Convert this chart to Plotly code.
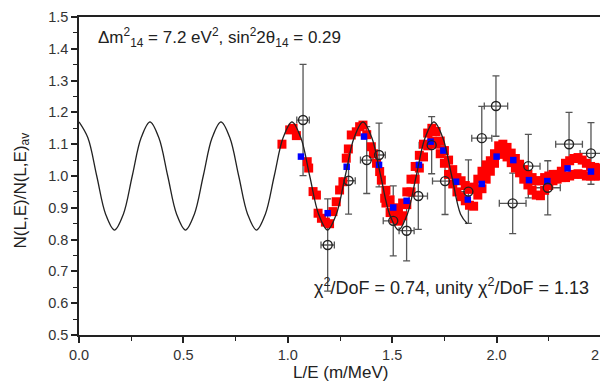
import plotly.graph_objects as go

# Model curve
curve_x = [0.000, 0.0425, 0.085, 0.1275, 0.170, 0.2125, 0.255, 0.2975, 0.340, 0.3825,
           0.425, 0.4675, 0.510, 0.5525, 0.595, 0.6375, 0.680, 0.7225, 0.765, 0.8075,
           0.850, 0.8925, 0.935, 0.9775, 1.020, 1.0625, 1.105, 1.1475, 1.190, 1.2325,
           1.275, 1.3175, 1.360, 1.4025, 1.445, 1.4875, 1.530, 1.5725, 1.615, 1.6575,
           1.700, 1.7425, 1.785, 1.8275, 1.860]
curve_y = [1.17, 1.12, 1.00, 0.88, 0.83, 0.88, 1.00, 1.12,
           1.17, 1.12, 1.00, 0.88, 0.83, 0.88, 1.00, 1.12,
           1.17, 1.12, 1.00, 0.88, 0.83, 0.88, 1.00, 1.12,
           1.17, 1.12, 1.00, 0.88, 0.83, 0.88, 1.00, 1.12,
           1.17, 1.12, 1.00, 0.88, 0.83, 0.88, 1.00, 1.12,
           1.17, 1.12, 1.00, 0.88, 0.85]

# Red squares: sparse part (L/E < 1.47)
red_x_a = [0.972, 1.009, 1.025, 1.041, 1.093, 1.100, 1.121, 1.137, 1.145, 1.161,
           1.180, 1.200, 1.216, 1.232, 1.248, 1.264, 1.280, 1.290, 1.304, 1.328,
           1.344, 1.360, 1.378, 1.400, 1.410, 1.425, 1.440, 1.448, 1.464]
red_y_a = [1.100, 1.145, 1.150, 1.127, 1.045, 1.025, 0.951, 0.940, 0.883, 0.867,
           0.855, 0.850, 0.888, 0.919, 0.956, 0.982, 1.056, 1.085, 1.129, 1.139,
           1.155, 1.160, 1.130, 1.092, 1.070, 1.040, 1.014, 0.987, 0.930]

# Red squares: dense band (upper and lower rows)
red_x_b = [1.47, 1.49, 1.51, 1.53, 1.55, 1.57, 1.59, 1.61, 1.63, 1.65,
           1.67, 1.69, 1.71, 1.73, 1.75, 1.77, 1.79, 1.81, 1.83, 1.85,
           1.87, 1.89, 1.91, 1.93, 1.95, 1.97, 1.99, 2.01, 2.03, 2.05,
           2.07, 2.09, 2.11, 2.13, 2.15, 2.17, 2.19, 2.21, 2.23, 2.25,
           2.27, 2.29, 2.31, 2.33, 2.35, 2.37, 2.39, 2.41, 2.43, 2.45,
           2.47, 2.49]
red_y_up = [0.955, 0.925, 0.900, 0.890, 0.915, 0.950, 0.990, 1.030, 1.065, 1.100,
            1.135, 1.150, 1.140, 1.110, 1.080, 1.050, 1.020, 0.995, 0.985, 0.970,
            0.958, 0.965, 0.990, 1.015, 1.035, 1.048, 1.070, 1.095, 1.100, 1.090,
            1.072, 1.055, 1.037, 1.020, 1.005, 0.995, 0.985, 0.985, 0.995, 1.000,
            1.005, 1.005, 1.015, 1.040, 1.048, 1.055, 1.058, 1.050, 1.040, 1.030,
            1.027, 1.025]
red_y_lo = [0.915, 0.885, 0.865, 0.858, 0.875, 0.910, 0.950, 0.990, 1.025, 1.060,
            1.095, 1.110, 1.100, 1.070, 1.040, 1.005, 0.975, 0.950, 0.935, 0.922,
            0.908, 0.905, 0.940, 0.960, 0.990, 1.015, 1.040, 1.068, 1.075, 1.060,
            1.042, 1.025, 1.010, 0.990, 0.972, 0.955, 0.940, 0.938, 0.955, 0.970,
            0.985, 0.990, 0.995, 0.995, 1.000, 1.005, 1.007, 1.005, 1.000, 1.000,
            1.000, 1.000]

# Blue squares
blue_x = [1.063, 1.191, 1.282, 1.365, 1.437, 1.505, 1.569, 1.628, 1.684, 1.745,
          1.806, 1.862, 1.929, 2.000, 2.080, 2.155, 2.243, 2.340, 2.452]
blue_y = [1.061, 0.883, 1.029, 1.124, 1.035, 0.901, 0.922, 1.035, 1.108, 1.080,
          0.982, 0.926, 0.975, 1.061, 1.050, 0.987, 0.984, 1.024, 1.014]

# Open circles with error bars
circ_x = [1.073, 1.191, 1.291, 1.378, 1.437, 1.505, 1.569, 1.625, 1.689, 1.753,
          1.865, 1.929, 1.997, 2.077, 2.152, 2.245, 2.347, 2.452]
circ_y = [1.176, 0.783, 0.985, 1.050, 1.066, 0.859, 0.828, 0.937, 1.097, 0.984,
          0.951, 1.119, 1.220, 0.914, 1.031, 0.963, 1.100, 1.071]
circ_ey = [0.175, 0.145, 0.105, 0.105, 0.100, 0.110, 0.095, 0.105, 0.090, 0.105,
           0.100, 0.100, 0.095, 0.095, 0.100, 0.085, 0.100, 0.097]
circ_ex = [0.030, 0.032, 0.032, 0.030, 0.030, 0.048, 0.036, 0.044, 0.060, 0.060,
           0.056, 0.048, 0.056, 0.064, 0.056, 0.060, 0.064, 0.052]

x_ticks = [0.0, 0.5, 1.0, 1.5, 2.0, 2.5]
y_ticks = [0.5, 0.6, 0.7, 0.8, 0.9, 1.0, 1.1, 1.2, 1.3, 1.4, 1.5]

FONT = "Liberation Sans, Arial, sans-serif"
INK = "#222222"

fig = go.Figure()

# error bars (under the squares)
fig.add_trace(go.Scatter(
    x=circ_x, y=circ_y, mode="markers",
    marker=dict(symbol="circle", size=0.1, color="rgba(0,0,0,0)"),
    error_y=dict(type="data", array=circ_ey, color="#555555", thickness=1.3, width=3.5),
    error_x=dict(type="data", array=circ_ex, color="#555555", thickness=1.3, width=3.5),
    showlegend=False, hoverinfo="skip"))

red_style = dict(symbol="square", size=9, color="#ff0000", line=dict(width=0))
fig.add_trace(go.Scatter(x=red_x_a, y=red_y_a, mode="markers", marker=red_style, showlegend=False))
fig.add_trace(go.Scatter(x=red_x_b, y=red_y_up, mode="markers", marker=red_style, showlegend=False))
fig.add_trace(go.Scatter(x=red_x_b, y=red_y_lo, mode="markers", marker=red_style, showlegend=False))

fig.add_trace(go.Scatter(
    x=blue_x, y=blue_y, mode="markers",
    marker=dict(symbol="square", size=6.5, color="#0000ff", line=dict(width=0)),
    showlegend=False))

fig.add_trace(go.Scatter(
    x=curve_x, y=curve_y, mode="lines",
    line=dict(color=INK, width=1.3, shape="spline", smoothing=1.0),
    showlegend=False))

fig.add_trace(go.Scatter(
    x=circ_x, y=circ_y, mode="markers",
    marker=dict(symbol="circle-open", size=9, color=INK, line=dict(width=1.4)),
    showlegend=False))

fig.add_annotation(
    x=0.08, y=1.435, xref="x", yref="y", xanchor="left", yanchor="middle",
    text="Δm<sup>2</sup><sub>14</sub> = 7.2 eV<sup>2</sup>, sin<sup>2</sup>2θ<sub>14</sub> = 0.29",
    showarrow=False, font=dict(family=FONT, size=17, color=INK))

fig.add_annotation(
    x=2.452, y=0.652, xref="x", yref="y", xanchor="right", yanchor="middle",
    text="χ<sup>2</sup>/DoF = 0.74, unity χ<sup>2</sup>/DoF = 1.13",
    showarrow=False, font=dict(family=FONT, size=18, color=INK))

# axis titles
fig.add_annotation(
    x=0.5, y=-0.119, xref="paper", yref="paper", xanchor="center", yanchor="middle",
    text="L/E (m/MeV)", showarrow=False, font=dict(family=FONT, size=17, color=INK))
fig.add_annotation(
    x=-0.109, y=0.455, xref="paper", yref="paper", xanchor="center", yanchor="middle",
    text="N(L,E)/N(L,E)<sub>av</sub>", textangle=-90, showarrow=False,
    font=dict(family=FONT, size=17, color=INK))

axis_common = dict(
    showline=True, linecolor=INK, linewidth=1.5, mirror=True,
    ticks="outside", tickcolor=INK, tickwidth=1.5, ticklen=6,
    showgrid=False, zeroline=False, automargin=False,
    ticklabeloverflow="allow",
    tickfont=dict(family=FONT, size=14.5, color="#333333"),
)

fig.update_xaxes(
    range=[0, 2.5], tickvals=x_ticks, ticktext=[f"{v:.1f}" for v in x_ticks],
    minor=dict(ticks="outside", dtick=0.25, ticklen=4, tickwidth=1.3, tickcolor=INK),
    **axis_common)
fig.update_yaxes(
    range=[0.5, 1.5], tickvals=y_ticks, ticktext=[f"{v:.1f}" for v in y_ticks],
    minor=dict(ticks="outside", dtick=0.05, ticklen=4, tickwidth=1.3, tickcolor=INK),
    **axis_common)

# page body has an 8px margin, so the figure is offset by 8px
fig.update_layout(
    width=600, height=377,
    margin=dict(l=71, r=7, t=9, b=50),
    paper_bgcolor="white", plot_bgcolor="white",
    showlegend=False,
)

fig.write_html("out.html")
